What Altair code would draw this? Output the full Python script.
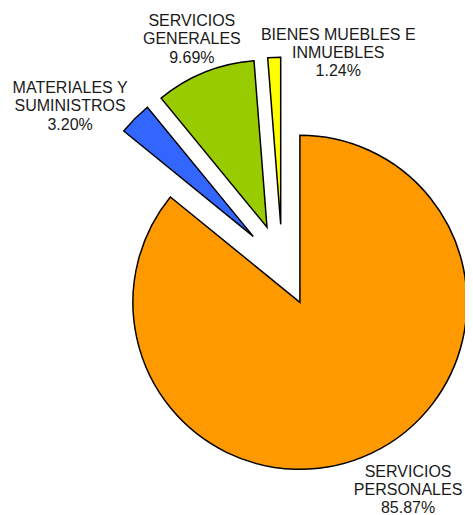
import altair as alt
import pandas as pd

# ---- data ----
categorias = ["SERVICIOS\nPERSONALES", "MATERIALES Y\nSUMINISTROS",
              "SERVICIOS\nGENERALES", "BIENES MUEBLES E\nINMUEBLES"]
porcentajes = [85.87, 3.20, 9.69, 1.24]
colores = ["#FF9900", "#3366FF", "#99CC00", "#FFFF00"]

# ---- layout constants (pixels) ----
CX, CY = 274.3, 257.3      # pie centre
R = 167                    # radius
EXPLODE = 41               # explosion distance
LABEL_R = 240              # label distance along mid-angle
LINE_H = 18.3              # label line height
label_shift_x = [22.7, -42.2, -0.9, 65.3]
label_shift_y = [8.1, 10.5, -3.4, 27.7]

df = pd.DataFrame({
    "cat": categorias,
    "valor": porcentajes,
    "orden": list(range(len(categorias))),
    "sx": label_shift_x,
    "sy": label_shift_y,
    "etiqueta": [f"{c}\n{v:.2f}%" for c, v in zip(categorias, porcentajes)],
})

base = (
    alt.Chart(df)
    .transform_stack(stack="valor", groupby=[], as_=["v0", "v1"],
                     sort=[alt.SortField("orden", order="ascending")])
    .transform_calculate(mid="PI*(datum.v0+datum.v1)/100")
    .transform_calculate(px=f"{CX}+{EXPLODE}*sin(datum.mid)")
    .transform_calculate(py=f"{CY}-{EXPLODE}*cos(datum.mid)")
    .transform_calculate(lx=f"{CX}+{LABEL_R}*sin(datum.mid)+datum.sx")
    .transform_calculate(ly=f"{CY}-{LABEL_R}*cos(datum.mid)+datum.sy-{LINE_H}")
)

arcs = base.mark_arc(outerRadius=R, stroke="black", strokeWidth=1.5).encode(
    theta=alt.Theta("v0:Q", scale=alt.Scale(domain=[0, 100]), stack=None),
    theta2="v1:Q",
    x=alt.X("px:Q", scale=None, axis=None),
    y=alt.Y("py:Q", scale=None, axis=None),
    color=alt.Color("cat:N", scale=alt.Scale(domain=categorias, range=colores), legend=None),
)

labels = base.mark_text(font="Liberation Sans", fontSize=16, lineBreak="\n",
                        lineHeight=LINE_H, align="center", baseline="middle",
                        color="#1a1a1a").encode(
    x=alt.X("lx:Q", scale=None, axis=None),
    y=alt.Y("ly:Q", scale=None, axis=None),
    text="etiqueta:N",
)

chart = (
    alt.layer(arcs, labels)
    .properties(width=457, height=507, autosize=alt.AutoSizeParams(type="none"), padding=0)
    .configure_view(stroke=None)
)

chart.save("out.html", embed_options={"renderer": "svg", "actions": False})
